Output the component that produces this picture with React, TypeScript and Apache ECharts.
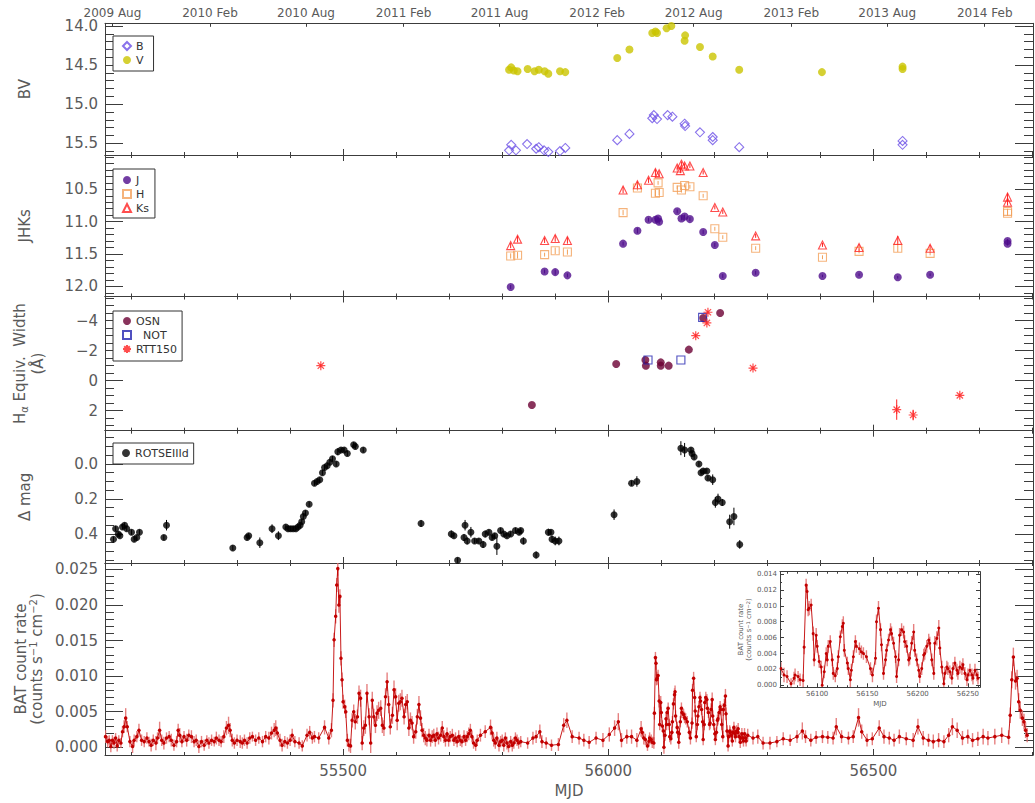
import React, { useEffect, useRef } from "react";
import * as echarts from "echarts";

// ---------------- shared MJD axis ----------------
const MJD_MIN = 55051;
const MJD_MAX = 56801;
const mjdMajorTicks = [55500, 56000, 56500];
const mjdMinorStep = 100;

// calendar ticks drawn along the top of the first panel
const calendarTickMjd = [55065, 55249, 55430, 55614, 55795, 55979, 56161, 56345, 56526, 56710];
const calendarTickLabels = [
  "2009 Aug", "2010 Feb", "2010 Aug", "2011 Feb", "2011 Aug",
  "2012 Feb", "2012 Aug", "2013 Feb", "2013 Aug", "2014 Feb",
];

// ---------------- optical photometry [MJD, mag] ----------------
const bandB: number[][] = [
  [55813, 15.59], [55817, 15.52], [55826, 15.59], [55847, 15.51], [55864, 15.57], [55869, 15.55],
  [55879, 15.59], [55887, 15.61], [55909, 15.60], [55919, 15.56], [56017, 15.46], [56040, 15.38],
  [56083, 15.18], [56086, 15.14], [56092, 15.19], [56112, 15.14], [56121, 15.16], [56144, 15.25],
  [56145, 15.28], [56173, 15.36], [56197, 15.42], [56197, 15.46], [56247, 15.55], [56555, 15.47],
  [56555, 15.52],
];
const bandV: number[][] = [
  [55813, 14.56], [55817, 14.53], [55822, 14.57], [55829, 14.58], [55848, 14.55], [55861, 14.58],
  [55869, 14.56], [55880, 14.58], [55887, 14.61], [55909, 14.58], [55919, 14.59], [56017, 14.41],
  [56040, 14.30], [56083, 14.09], [56089, 14.07], [56092, 14.09], [56110, 14.03], [56119, 14.00],
  [56145, 14.12], [56144, 14.19], [56173, 14.27], [56197, 14.39], [56247, 14.56], [56403, 14.59],
  [56555, 14.52], [56555, 14.55],
];

// ---------------- near-IR photometry [MJD, mag, error] ----------------
const bandJ: number[][] = [
  [55816, 12.01, 0.03], [55880, 11.77, 0.03], [55900, 11.78, 0.04], [55923, 11.83, 0.03],
  [56028, 11.34, 0.03], [56055, 11.14, 0.04], [56076, 10.97, 0.03], [56089, 10.97, 0.03],
  [56094, 10.95, 0.03], [56096, 11.0, 0.04], [56130, 10.84, 0.03], [56138, 10.95, 0.03],
  [56144, 10.92, 0.03], [56154, 10.96, 0.03], [56179, 11.16, 0.03], [56201, 11.36, 0.03],
  [56216, 11.84, 0.03], [56278, 11.79, 0.03], [56404, 11.84, 0.02], [56473, 11.82, 0.02],
  [56546, 11.86, 0.02], [56607, 11.82, 0.02], [56753, 11.3, 0.03], [56753, 11.34, 0.03],
];
const bandH: number[][] = [
  [55816, 11.53, 0.04], [55829, 11.52, 0.05], [55880, 11.51, 0.03], [55900, 11.45, 0.05],
  [55923, 11.47, 0.04], [56028, 10.86, 0.04], [56055, 10.48, 0.04], [56089, 10.56, 0.05],
  [56094, 10.4, 0.03], [56096, 10.55, 0.04], [56130, 10.47, 0.03], [56138, 10.51, 0.04],
  [56144, 10.44, 0.03], [56154, 10.46, 0.03], [56179, 10.6, 0.03], [56201, 11.11, 0.03],
  [56216, 11.24, 0.03], [56278, 11.41, 0.03], [56404, 11.55, 0.03], [56473, 11.46, 0.03],
  [56546, 11.41, 0.06], [56607, 11.49, 0.03], [56753, 10.87, 0.04], [56753, 10.84, 0.04],
];
const bandKs: number[][] = [
  [55816, 11.37, 0.04], [55829, 11.27, 0.05], [55880, 11.29, 0.04], [55900, 11.26, 0.05],
  [55923, 11.29, 0.05], [56028, 10.51, 0.05], [56055, 10.43, 0.05], [56076, 10.36, 0.04],
  [56089, 10.24, 0.05], [56096, 10.26, 0.04], [56130, 10.17, 0.04], [56136, 10.21, 0.04],
  [56138, 10.11, 0.04], [56144, 10.14, 0.04], [56154, 10.14, 0.03], [56179, 10.24, 0.03],
  [56201, 10.78, 0.03], [56216, 10.85, 0.03], [56278, 11.22, 0.03], [56404, 11.36, 0.03],
  [56473, 11.4, 0.05], [56546, 11.29, 0.07], [56607, 11.41, 0.05], [56753, 10.62, 0.06],
  [56753, 10.7, 0.05],
];

// ---------------- H-alpha equivalent width [MJD, EW, error] ----------------
const haOSN: number[][] = [
  [55856, 1.62, 0.06], [56015, -1.11, 0.06], [56070, -1.38, 0.06], [56071, -1.0, 0.06],
  [56099, -1.22, 0.06], [56099, -1.0, 0.06], [56114, -1.0, 0.06], [56152, -2.07, 0.06],
  [56179, -4.18, 0.06], [56211, -4.51, 0.06],
];
const haNOT: number[][] = [
  [56075, -1.38, 0.05], [56137, -1.38, 0.05], [56178, -4.22, 0.05],
];
const haRTT150: number[][] = [
  [55458, -1.0, 0.1], [56165, -3.0, 0.1], [56186, -3.85, 0.1], [56188, -4.56, 0.1],
  [56273, -0.84, 0.1], [56544, 1.93, 0.68], [56575, 2.29, 0.35], [56663, 0.98, 0.1],
];

// ---------------- ROTSE-IIId differential magnitude [MJD, dmag, error] ----------------
const rotse: number[][] = [
  [55067, 0.43, 0.015], [55071, 0.37, 0.015], [55076, 0.4, 0.015], [55079, 0.41, 0.015],
  [55084, 0.36, 0.015], [55088, 0.35, 0.015], [55092, 0.37, 0.015], [55101, 0.39, 0.015],
  [55106, 0.43, 0.015], [55111, 0.42, 0.015], [55116, 0.39, 0.015], [55162, 0.42, 0.015],
  [55167, 0.35, 0.03], [55292, 0.48, 0.015], [55319, 0.42, 0.015], [55322, 0.41, 0.015],
  [55343, 0.45, 0.03], [55366, 0.37, 0.025], [55378, 0.41, 0.025], [55392, 0.36, 0.015],
  [55396, 0.37, 0.015], [55401, 0.37, 0.015], [55406, 0.37, 0.015], [55411, 0.37, 0.015],
  [55415, 0.36, 0.015], [55419, 0.35, 0.015], [55422, 0.33, 0.015], [55425, 0.3, 0.015],
  [55429, 0.28, 0.015], [55436, 0.23, 0.015], [55446, 0.11, 0.015], [55451, 0.1, 0.015],
  [55456, 0.09, 0.015], [55461, 0.05, 0.015], [55465, 0.02, 0.015], [55470, 0.01, 0.015],
  [55475, -0.01, 0.015], [55480, -0.03, 0.015], [55487, 0.0, 0.015], [55490, -0.07, 0.02],
  [55496, -0.08, 0.015], [55502, -0.08, 0.015], [55508, -0.06, 0.015], [55520, -0.11, 0.015],
  [55523, -0.1, 0.015], [55538, -0.08, 0.015], [55647, 0.34, 0.02], [55704, 0.4, 0.02],
  [55709, 0.41, 0.015], [55716, 0.55, 0.015], [55728, 0.42, 0.02], [55730, 0.35, 0.03],
  [55734, 0.44, 0.02], [55741, 0.39, 0.03], [55748, 0.44, 0.015], [55756, 0.44, 0.015],
  [55764, 0.46, 0.02], [55768, 0.4, 0.02], [55775, 0.39, 0.015], [55781, 0.42, 0.015],
  [55786, 0.41, 0.015], [55790, 0.47, 0.05], [55797, 0.38, 0.015], [55803, 0.4, 0.015],
  [55809, 0.41, 0.015], [55816, 0.4, 0.015], [55825, 0.38, 0.015], [55832, 0.39, 0.015],
  [55835, 0.38, 0.015], [55840, 0.44, 0.02], [55864, 0.52, 0.02], [55887, 0.39, 0.02],
  [55892, 0.39, 0.015], [55894, 0.43, 0.02], [55900, 0.44, 0.025], [55907, 0.44, 0.025],
  [56011, 0.29, 0.03], [56044, 0.11, 0.015], [56054, 0.1, 0.03], [56137, -0.09, 0.04],
  [56144, -0.08, 0.04], [56156, -0.08, 0.015], [56158, -0.06, 0.015], [56162, -0.04, 0.015],
  [56171, 0.0, 0.015], [56175, 0.05, 0.015], [56179, 0.04, 0.015], [56186, 0.04, 0.015],
  [56188, 0.08, 0.015], [56197, 0.09, 0.03], [56202, 0.22, 0.03], [56207, 0.2, 0.03],
  [56215, 0.22, 0.02], [56229, 0.33, 0.04], [56237, 0.3, 0.05], [56248, 0.46, 0.025],
];

// ---------------- Swift/BAT count rate [MJD, rate, error] ----------------
const batEarly: number[][] = [
  [55052, 0.0015, 0.0009], [55056, 0.0008, 0.0008], [55059, 0.001, 0.0007], [55062, 0.0001, 0.0008],
  [55065, 0.001, 0.0007], [55068, 0.0006, 0.0008], [55071, 0.0013, 0.0007], [55074, 0.0002, 0.0008],
  [55077, 0.001, 0.0007], [55081, 0.0006, 0.0007], [55084, 0.0022, 0.0008], [55087, 0.0029, 0.0009],
  [55090, 0.0041, 0.0014], [55093, 0.0029, 0.0008], [55098, 0.0008, 0.0008], [55103, 0.0001, 0.0009],
  [55106, 0.001, 0.0008], [55111, 0.0015, 0.0008], [55115, 0.0024, 0.0009], [55120, 0.001, 0.0008],
  [55125, 0.0008, 0.0008], [55130, 0.0013, 0.0008], [55134, 0.0008, 0.0007], [55138, 0.0003, 0.0009],
  [55142, 0.001, 0.0008], [55147, 0.0006, 0.001], [55150, 0.0013, 0.0008], [55154, 0.0024, 0.0012],
  [55158, 0.001, 0.0008], [55162, 0.0006, 0.0009], [55167, 0.0013, 0.0008], [55172, 0.0015, 0.0008],
  [55176, 0.001, 0.0009], [55181, 0.0003, 0.0008], [55186, 0.0008, 0.0008], [55189, 0.0024, 0.0009],
  [55192, 0.0017, 0.001], [55196, 0.0008, 0.0008], [55200, 0.0015, 0.0008], [55205, 0.001, 0.0009],
  [55209, 0.0017, 0.0008], [55214, 0.0015, 0.0009], [55219, 0.0008, 0.0008], [55223, 0.001, 0.0008],
  [55228, 0.0001, 0.0009], [55233, 0.0008, 0.0008], [55238, 0.0003, 0.0008], [55243, 0.001, 0.0007],
  [55247, 0.0006, 0.0008], [55252, 0.001, 0.0008], [55257, 0.0008, 0.0007], [55261, 0.0013, 0.0009],
  [55266, 0.001, 0.0008], [55270, 0.0008, 0.0008], [55275, 0.0015, 0.0009], [55280, 0.0027, 0.001],
  [55284, 0.0031, 0.0012], [55287, 0.0024, 0.001], [55291, 0.001, 0.0009], [55295, 0.0006, 0.0008],
  [55300, 0.001, 0.0008], [55306, 0.0008, 0.0009], [55310, 0.0006, 0.0008], [55314, 0.001, 0.0008],
  [55319, 0.0006, 0.0008], [55324, 0.0013, 0.0008], [55329, 0.0015, 0.0007], [55335, 0.001, 0.0008],
  [55341, 0.0013, 0.0008], [55348, 0.0008, 0.0008], [55354, 0.0015, 0.0008], [55360, 0.0013, 0.0009],
  [55365, 0.002, 0.0009], [55370, 0.0024, 0.001], [55373, 0.0027, 0.0011], [55376, 0.002, 0.0009],
  [55381, 0.001, 0.0009], [55385, 0.0003, 0.0009], [55390, 0.0008, 0.0008], [55395, 0.0006, 0.0008],
  [55400, 0.001, 0.0008], [55404, 0.0017, 0.0009], [55409, 0.0008, 0.0008], [55417, 0.0006, 0.0008],
  [55423, 0.0002, 0.0008], [55432, 0.0017, 0.0009], [55437, 0.0021, 0.0009], [55442, 0.0013, 0.0008],
  [55446, 0.0015, 0.0008], [55454, 0.0013, 0.0008], [55465, 0.0028, 0.001], [55473, 0.0013, 0.0009],
  [55478, 0.0024, 0.001], [55481, 0.0066, 0.001], [55483, 0.0151, 0.001], [55486, 0.0184, 0.001],
  [55488, 0.0228, 0.001], [55490, 0.0251, 0.001], [55492, 0.02, 0.0011], [55494, 0.0212, 0.001],
  [55496, 0.0125, 0.001], [55498, 0.0095, 0.001], [55500, 0.0064, 0.001], [55503, 0.0057, 0.001],
  [55505, 0.005, 0.0009], [55508, 0.001, 0.0009], [55511, 0.0003, 0.0009], [55514, 0.0002, 0.001],
  [55517, 0.0038, 0.001], [55520, 0.005, 0.001], [55523, 0.0036, 0.0011], [55527, 0.0043, 0.001],
  [55530, 0.0076, 0.0011], [55533, 0.0069, 0.0012], [55536, 0.0006, 0.001], [55539, 0.0027, 0.0011],
  [55542, 0.0031, 0.0012], [55545, 0.0076, 0.0013], [55549, 0.0043, 0.0012], [55552, 0.0006, 0.0014],
  [55555, 0.0066, 0.0012], [55558, 0.0043, 0.0011], [55561, 0.0031, 0.0011], [55564, 0.0048, 0.0011],
  [55567, 0.0052, 0.0012], [55571, 0.0055, 0.0011], [55574, 0.0031, 0.0011], [55577, 0.0027, 0.0011],
  [55580, 0.0071, 0.0012], [55583, 0.0092, 0.0013], [55586, 0.006, 0.0012], [55589, 0.0029, 0.0011],
  [55593, 0.0045, 0.0012], [55596, 0.0081, 0.0013], [55599, 0.0071, 0.0012], [55602, 0.0038, 0.0014],
  [55605, 0.0062, 0.0012], [55608, 0.0064, 0.0012], [55611, 0.0069, 0.0012], [55615, 0.0043, 0.0011],
  [55618, 0.006, 0.0012], [55621, 0.0064, 0.0011], [55624, 0.0027, 0.0011], [55627, 0.0038, 0.0011],
  [55630, 0.0034, 0.001], [55633, 0.0015, 0.001], [55637, 0.0022, 0.001], [55640, 0.0043, 0.0011],
  [55643, 0.006, 0.0012], [55646, 0.0041, 0.0011], [55649, 0.0024, 0.001], [55652, 0.0017, 0.001],
  [55655, 0.0013, 0.001], [55658, 0.001, 0.0009], [55662, 0.0017, 0.0009], [55665, 0.001, 0.0009],
  [55668, 0.0015, 0.0009], [55671, 0.0017, 0.0009], [55674, 0.001, 0.0009], [55677, 0.0019, 0.0009],
  [55680, 0.0013, 0.0009], [55684, 0.0017, 0.0009], [55687, 0.0027, 0.001], [55690, 0.0015, 0.0009],
  [55693, 0.001, 0.0009], [55696, 0.0019, 0.0009], [55699, 0.001, 0.0009], [55702, 0.0015, 0.0008],
  [55706, 0.0017, 0.0009], [55709, 0.001, 0.0008], [55712, 0.0013, 0.0008], [55715, 0.0008, 0.0008],
  [55718, 0.0015, 0.0009], [55721, 0.001, 0.0008], [55724, 0.0008, 0.0008], [55728, 0.0015, 0.0009],
  [55731, 0.001, 0.0008], [55734, 0.0015, 0.0008], [55737, 0.0019, 0.0009], [55740, 0.0024, 0.0009],
  [55743, 0.0015, 0.0008], [55746, 0.0006, 0.0008], [55750, 0.0003, 0.0008], [55753, 0.001, 0.0008],
  [55759, 0.0017, 0.0009], [55768, 0.0022, 0.0009], [55778, 0.0028, 0.0011], [55781, 0.002, 0.0009],
  [55784, 0.001, 0.0009], [55787, 0.0006, 0.0008], [55790, 0.0013, 0.0009], [55794, 0.0003, 0.0009],
  [55797, 0.0008, 0.0008], [55800, 0.001, 0.0008], [55803, 0.0003, 0.0009], [55806, 0.0013, 0.0008],
  [55809, 0.0006, 0.0009], [55812, 0.0001, 0.0008], [55816, 0.0008, 0.0008], [55819, 0.0003, 0.0009],
  [55822, 0.0006, 0.0008], [55825, 0.0013, 0.0008], [55828, 0.001, 0.0008], [55831, 0.0006, 0.0008],
  [55835, 0.0008, 0.0008], [55848, 0.0006, 0.0008], [55858, 0.0013, 0.0009], [55864, 0.0015, 0.0009],
  [55871, 0.0022, 0.001], [55875, 0.0008, 0.0009], [55883, 0.0006, 0.0008], [55893, 0.0003, 0.0008],
  [55906, 0.0004, 0.0009], [55916, 0.0031, 0.001], [55922, 0.0038, 0.0011], [55932, 0.0015, 0.0009],
  [55945, 0.0013, 0.0009], [55954, 0.001, 0.0009], [55964, 0.0007, 0.0009], [55977, 0.0013, 0.0009],
  [55990, 0.001, 0.001], [56002, 0.0018, 0.001], [56012, 0.0027, 0.0011], [56019, 0.0036, 0.0012],
  [56025, 0.001, 0.001], [56035, 0.0015, 0.001], [56044, 0.0015, 0.001], [56054, 0.001, 0.001],
  [56062, 0.0026, 0.0011],
];
// 2012 outburst, also shown enlarged in the inset
const batFlare2012: number[][] = [
  [56064, 0.0021, 0.0008], [56067, 0.0013, 0.0009], [56070, 0.0011, 0.0008], [56074, 0.0002, 0.0007],
  [56077, 0.0009, 0.0008], [56078, 0.0013, 0.0008], [56081, 0.0011, 0.0007], [56083, 0.0007, 0.0008],
  [56086, 0.0006, 0.0008], [56087, 0.0048, 0.0009], [56089, 0.0126, 0.0008], [56090, 0.0118, 0.0009],
  [56091, 0.0095, 0.0008], [56092, 0.0097, 0.0009], [56094, 0.0101, 0.0008], [56096, 0.0065, 0.0009],
  [56097, 0.0032, 0.0008], [56099, 0.0063, 0.0009], [56100, 0.0049, 0.0008], [56102, 0.003, 0.0008],
  [56104, 0.0023, 0.0008], [56105, 0.0, 0.0009], [56107, 0.0017, 0.0008], [56109, 0.004, 0.0008],
  [56110, 0.0032, 0.0008], [56111, 0.0049, 0.0008], [56113, 0.0055, 0.0008], [56115, 0.0032, 0.0008],
  [56116, 0.0015, 0.0008], [56118, 0.0012, 0.0008], [56120, 0.0021, 0.0008], [56121, 0.0036, 0.0008],
  [56123, 0.0061, 0.0008], [56125, 0.0074, 0.0009], [56126, 0.0078, 0.0009], [56127, 0.0044, 0.0008],
  [56130, 0.0028, 0.0008], [56131, 0.0021, 0.0008], [56133, 0.0007, 0.0009], [56134, 0.0019, 0.0008],
  [56136, 0.0036, 0.0008], [56138, 0.0055, 0.0008], [56139, 0.0049, 0.0008], [56142, 0.0046, 0.0008],
  [56144, 0.0042, 0.0008], [56146, 0.004, 0.0008], [56149, 0.0036, 0.0008], [56153, 0.0021, 0.0008],
  [56155, 0.0013, 0.0009], [56158, 0.0034, 0.0008], [56159, 0.008, 0.0009], [56161, 0.0097, 0.0009],
  [56163, 0.007, 0.0008], [56164, 0.0051, 0.0008], [56166, 0.0015, 0.0008], [56168, 0.0032, 0.0008],
  [56169, 0.0044, 0.0008], [56171, 0.0057, 0.0008], [56173, 0.007, 0.0008], [56174, 0.0065, 0.0009],
  [56176, 0.0053, 0.0008], [56178, 0.0036, 0.0008], [56179, 0.0011, 0.0008], [56181, 0.0032, 0.0008],
  [56182, 0.0063, 0.0009], [56184, 0.007, 0.0008], [56186, 0.0067, 0.0008], [56187, 0.0055, 0.0008],
  [56189, 0.0049, 0.0008], [56191, 0.0032, 0.0008], [56192, 0.0034, 0.0008], [56194, 0.0053, 0.0009],
  [56196, 0.0067, 0.001], [56197, 0.0044, 0.0008], [56199, 0.0032, 0.0008], [56201, 0.0019, 0.0008],
  [56202, 0.0011, 0.0008], [56204, 0.0021, 0.0008], [56206, 0.0038, 0.0008], [56207, 0.004, 0.0008],
  [56209, 0.0049, 0.0008], [56211, 0.0057, 0.0008], [56212, 0.0053, 0.0008], [56214, 0.0032, 0.0008],
  [56216, 0.0015, 0.0008], [56217, 0.0053, 0.0009], [56219, 0.0059, 0.0009], [56221, 0.0072, 0.001],
  [56222, 0.0047, 0.0009], [56224, 0.0023, 0.0008], [56226, 0.0002, 0.0008], [56227, 0.0015, 0.0008],
  [56229, 0.0023, 0.0008], [56230, 0.0021, 0.0008], [56232, 0.0017, 0.0008], [56234, 0.0009, 0.0008],
  [56235, 0.0021, 0.0008], [56237, 0.0028, 0.0008], [56239, 0.0019, 0.0008], [56240, 0.0015, 0.0008],
  [56242, 0.0023, 0.0008], [56244, 0.0021, 0.0008], [56245, 0.0026, 0.0008], [56247, 0.0015, 0.0008],
  [56249, 0.0007, 0.0008], [56250, 0.0013, 0.0008], [56252, 0.0019, 0.0008], [56254, 0.0013, 0.0008],
  [56255, 0.0009, 0.0008], [56257, 0.0019, 0.0008], [56259, 0.0013, 0.0008], [56260, 0.0009, 0.0008],
];
const batLate: number[][] = [
  [56263, 0.0017, 0.0009], [56273, 0.0013, 0.0009], [56282, 0.0015, 0.001], [56292, 0.0006, 0.0009],
  [56305, 0.0006, 0.0009], [56318, 0.0008, 0.0008], [56330, 0.0012, 0.0009], [56343, 0.001, 0.0008],
  [56356, 0.0015, 0.0009], [56366, 0.0023, 0.0012], [56372, 0.0015, 0.0009], [56382, 0.001, 0.0009],
  [56392, 0.0014, 0.0009], [56404, 0.0015, 0.0009], [56414, 0.0014, 0.0009], [56424, 0.0013, 0.0009],
  [56430, 0.0029, 0.0012], [56440, 0.0015, 0.0009], [56453, 0.0013, 0.0009], [56462, 0.0015, 0.0009],
  [56472, 0.0042, 0.0013], [56478, 0.0022, 0.001], [56488, 0.001, 0.0009], [56498, 0.0012, 0.0009],
  [56511, 0.0027, 0.0011], [56520, 0.0015, 0.001], [56530, 0.0013, 0.0009], [56539, 0.001, 0.0009],
  [56549, 0.0015, 0.001], [56562, 0.0012, 0.0009], [56575, 0.001, 0.001], [56584, 0.0029, 0.0011],
  [56594, 0.0013, 0.001], [56604, 0.001, 0.0009], [56613, 0.0008, 0.001], [56623, 0.001, 0.001],
  [56633, 0.0008, 0.0009], [56642, 0.0017, 0.001], [56649, 0.0029, 0.0012], [56658, 0.0024, 0.0011],
  [56668, 0.0013, 0.001], [56678, 0.0015, 0.001], [56687, 0.001, 0.001], [56697, 0.0012, 0.001],
  [56707, 0.0015, 0.0011], [56716, 0.0013, 0.001], [56729, 0.0015, 0.0011], [56742, 0.0017, 0.0011],
  [56755, 0.0014, 0.001], [56758, 0.0045, 0.0011], [56761, 0.0095, 0.0012], [56764, 0.0127, 0.0013],
  [56768, 0.0093, 0.0012], [56771, 0.0097, 0.0012], [56774, 0.0064, 0.0012], [56777, 0.0052, 0.0012],
  [56781, 0.0041, 0.0011], [56784, 0.0036, 0.0011], [56787, 0.0024, 0.0011], [56790, 0.0017, 0.001],
];

// ---------------- y-axis ticks per panel ----------------
const bvMajor = [14.0, 14.5, 15.0, 15.5];
const jhkMajor = [10.5, 11.0, 11.5, 12.0];
const haMajor = [-4, -2, 0, 2];
const dmagMajor = [0.0, 0.2, 0.4];
const batMajor = [0, 0.005, 0.01, 0.015, 0.02, 0.025];
const insetRateMajor = [0, 0.002, 0.004, 0.006, 0.008, 0.01, 0.012, 0.014];
const insetMjdMajor = [56100, 56150, 56200, 56250];

// ---------------- layout ----------------
const PLOT_LEFT = 105;
const PLOT_WIDTH = 928;
const panelTop = [23.3, 155, 296.5, 430.7, 563];
const panelHeight = [131.7, 141.5, 134.2, 132.3, 192];
const INSET = { left: 780, top: 571.7, width: 200, height: 115.6 };

const FONT = "DejaVu Sans";
const AXIS_COLOR = "#3c3c3c";
const TEXT_COLOR = "#5a5a5a";
const BAT_RED = "#c20000";
const BAT_ERR = "#e26a6a";

function steps(from: number, to: number, step: number): number[] {
  const out: number[] = [];
  const n = Math.round((to - from) / step);
  for (let i = 0; i <= n; i++) out.push(Number((from + i * step).toFixed(6)));
  return out;
}

const mjdMinorTicks = steps(55100, 56800, mjdMinorStep);

function buildOption(): any {
  const line = { color: AXIS_COLOR, width: 1 };
  const grid: any[] = panelTop.map((t, i) => ({
    left: PLOT_LEFT, top: t, width: PLOT_WIDTH, height: panelHeight[i], containLabel: false,
  }));
  grid.push({ left: INSET.left, top: INSET.top, width: INSET.width, height: INSET.height, containLabel: false });

  const xAxis: any[] = [];
  const yAxis: any[] = [];
  const series: any[] = [];

  function addX(grid: number, position: string, ticks: number[], length: number, showLine: boolean, extra: any = {}) {
    xAxis.push({
      type: "value", gridIndex: grid, position, min: MJD_MIN, max: MJD_MAX,
      axisLine: { show: showLine, onZero: false, lineStyle: line },
      axisTick: { show: true, inside: true, length, customValues: ticks, lineStyle: line },
      axisLabel: { show: false },
      splitLine: { show: false },
      ...extra,
    });
    return xAxis.length - 1;
  }
  function addY(grid: number, position: string, range: number[], inverse: boolean, ticks: number[], length: number, showLine: boolean, extra: any = {}) {
    yAxis.push({
      type: "value", gridIndex: grid, position, min: range[0], max: range[1], inverse,
      axisLine: { show: showLine, onZero: false, lineStyle: line },
      axisTick: { show: true, inside: true, length, customValues: ticks, lineStyle: line },
      axisLabel: { show: false },
      splitLine: { show: false },
      ...extra,
    });
    return yAxis.length - 1;
  }

  const tickLabel = { show: true, fontFamily: FONT, fontSize: 15, color: TEXT_COLOR, margin: 7 };
  const nameStyle = { fontFamily: FONT, fontSize: 15, color: TEXT_COLOR };

  function panel(g: number, range: number[], inverse: boolean, major: number[], minor: number[],
    fmt: (v: number) => string, nameCfg: any, opts: { calendarTop?: boolean; mjdLabels?: boolean } = {}) {
    const xi = addX(g, "bottom", mjdMajorTicks, 6, true, opts.mjdLabels ? {
      axisLabel: { ...tickLabel, margin: 8, customValues: mjdMajorTicks, formatter: (v: number) => String(v) },
      name: "MJD", nameLocation: "middle", nameGap: 28, nameTextStyle: nameStyle,
    } : {});
    addX(g, "bottom", mjdMinorTicks, 3, false);
    if (opts.calendarTop) {
      addX(g, "top", calendarTickMjd, 3.5, true, {
        axisLabel: {
          show: true, fontFamily: FONT, fontSize: 12, color: TEXT_COLOR, margin: 4,
          customValues: calendarTickMjd,
          formatter: (v: number) => calendarTickLabels[calendarTickMjd.indexOf(v)] ?? "",
        },
      });
    } else {
      addX(g, "top", mjdMajorTicks, 6, true);
      addX(g, "top", mjdMinorTicks, 3, false);
    }
    const yi = addY(g, "left", range, inverse, major, 18, true, {
      axisLabel: { ...tickLabel, customValues: major, formatter: fmt },
      nameLocation: "middle", ...nameCfg,
    });
    addY(g, "left", range, inverse, minor, 9, false);
    addY(g, "right", range, inverse, major, 18, true);
    addY(g, "right", range, inverse, minor, 9, false);
    return { xi, yi };
  }

  const signed = (v: number) => (v < 0 ? "\u2212" + Math.abs(v) : String(v));

  const p1 = panel(0, [13.966, 15.65], true, bvMajor, steps(14.0, 15.6, 0.1), (v) => v.toFixed(1),
    { name: "BV", nameGap: 73, nameTextStyle: nameStyle }, { calendarTop: true });
  const p2 = panel(1, [9.969, 12.157], true, jhkMajor, steps(10.0, 12.1, 0.1), (v) => v.toFixed(1),
    { name: "JHKs", nameGap: 73, nameTextStyle: nameStyle });
  const p3 = panel(2, [-5.61, 3.335], true, haMajor, steps(-5.5, 3.0, 0.5), signed, {
    name: "{t|H}{s|\u03b1}{t| Equiv.  Width}\n{t|(\u00c5)}", nameGap: 58,
    nameTextStyle: {
      ...nameStyle,
      rich: {
        t: { fontFamily: FONT, fontSize: 15, color: TEXT_COLOR, lineHeight: 18 },
        s: { fontFamily: FONT, fontSize: 10, color: TEXT_COLOR, lineHeight: 10, verticalAlign: "bottom" },
      },
    },
  });
  const p4 = panel(3, [-0.19, 0.566], true, dmagMajor, steps(-0.15, 0.55, 0.05), (v) => v.toFixed(1),
    { name: "\u0394 mag", nameGap: 73, nameTextStyle: nameStyle });
  const p5 = panel(4, [-0.00108, 0.02589], false, batMajor, steps(0, 0.025, 0.001), (v) => v.toFixed(3), {
    name: "{t|BAT count rate}\n{t|(counts s}{u|\u22121}{t| cm}{u|\u22122}{t|)}", nameGap: 59,
    nameTextStyle: {
      ...nameStyle,
      rich: {
        t: { fontFamily: FONT, fontSize: 15, color: TEXT_COLOR, lineHeight: 16 },
        u: { fontFamily: FONT, fontSize: 10, color: TEXT_COLOR, lineHeight: 10, verticalAlign: "top" },
      },
    },
  }, { mjdLabels: true });

  // ---- inset axes (enlarged 2012 outburst) ----
  const insetMjd = [56063, 56262];
  const insetRate = [-0.00025, 0.01429];
  const insetLabel = { show: true, fontFamily: FONT, fontSize: 7, color: TEXT_COLOR, margin: 3 };
  const insetXAxis = (position: string, ticks: number[], length: number, showLine: boolean, extra: any = {}) => {
    xAxis.push({
      type: "value", gridIndex: 5, position, min: insetMjd[0], max: insetMjd[1], z: 8,
      axisLine: { show: showLine, onZero: false, lineStyle: line },
      axisTick: { show: true, inside: true, length, customValues: ticks, lineStyle: line },
      axisLabel: { show: false }, splitLine: { show: false }, ...extra,
    });
    return xAxis.length - 1;
  };
  const insetYAxis = (position: string, ticks: number[], length: number, showLine: boolean, extra: any = {}) => {
    yAxis.push({
      type: "value", gridIndex: 5, position, min: insetRate[0], max: insetRate[1], z: 8,
      axisLine: { show: showLine, onZero: false, lineStyle: line },
      axisTick: { show: true, inside: true, length, customValues: ticks, lineStyle: line },
      axisLabel: { show: false }, splitLine: { show: false }, ...extra,
    });
    return yAxis.length - 1;
  };
  const insetMinorMjd = steps(56070, 56260, 10);
  const insetMinorRate = steps(0, 0.014, 0.001);
  const ixi = insetXAxis("bottom", insetMjdMajor, 4, true, {
    axisLabel: { ...insetLabel, customValues: insetMjdMajor, formatter: (v: number) => String(v) },
    name: "MJD", nameLocation: "middle", nameGap: 13,
    nameTextStyle: { fontFamily: FONT, fontSize: 7, color: TEXT_COLOR },
  });
  insetXAxis("bottom", insetMinorMjd, 2, false);
  insetXAxis("top", insetMjdMajor, 4, true);
  insetXAxis("top", insetMinorMjd, 2, false);
  const iyi = insetYAxis("left", insetRateMajor, 4, true, {
    axisLabel: { ...insetLabel, customValues: insetRateMajor, formatter: (v: number) => v.toFixed(3) },
    name: "{t|BAT count rate}\n{t|(counts s}{u|\u22121}{t| cm}{u|\u22122}{t|)}",
    nameLocation: "middle", nameGap: 27,
    nameTextStyle: {
      fontFamily: FONT, fontSize: 7, color: TEXT_COLOR,
      rich: {
        t: { fontFamily: FONT, fontSize: 7, color: TEXT_COLOR, lineHeight: 8 },
        u: { fontFamily: FONT, fontSize: 5, color: TEXT_COLOR, lineHeight: 5, verticalAlign: "top" },
      },
    },
  });
  insetYAxis("left", insetMinorRate, 2, false);
  insetYAxis("right", insetRateMajor, 4, true);
  insetYAxis("right", insetMinorRate, 2, false);

  // ---- series helpers ----
  const errorBars = (data: number[][], xi: number, yi: number, color: string, width: number, z: number, opacity = 1) => ({
    type: "custom", xAxisIndex: xi, yAxisIndex: yi, z, silent: true, clip: true,
    data: data.map((d) => [d[0], d[1] - d[2], d[1] + d[2]]),
    encode: { x: 0, y: [1, 2] },
    renderItem: (_p: any, api: any) => {
      const a = api.coord([api.value(0), api.value(1)]);
      const b = api.coord([api.value(0), api.value(2)]);
      return {
        type: "line",
        shape: { x1: a[0], y1: a[1], x2: b[0], y2: b[1] },
        style: { stroke: color, lineWidth: width, opacity },
      };
    },
  });
  const scatter = (name: string, data: number[][], ax: { xi: number; yi: number }, symbol: string, size: number, itemStyle: any, z = 4) => ({
    type: "scatter", name, xAxisIndex: ax.xi, yAxisIndex: ax.yi, z, clip: true,
    data: data.map((d) => [d[0], d[1]]),
    symbol, symbolSize: size, symbolKeepAspect: true, itemStyle,
  });
  const hollow = (c: string, w = 1.1) => ({ color: "rgba(255,255,255,0)", borderColor: c, borderWidth: w });
  const ASTERISK = "path://M5,0L5,10M0,5L10,5M1.5,1.5L8.5,8.5M1.5,8.5L8.5,1.5";

  // panel 1: B and V
  series.push(scatter("B", bandB, p1, "diamond", 9, hollow("#6b4fe6")));
  series.push(scatter("V", bandV, p1, "circle", 8, { color: "#cbc400" }));

  // panel 2: J, H, Ks
  series.push(errorBars(bandJ, p2.xi, p2.yi, "#4f0c8c", 1, 3));
  series.push(errorBars(bandH, p2.xi, p2.yi, "#f2a05a", 1, 3));
  series.push(errorBars(bandKs, p2.xi, p2.yi, "#ff2020", 1, 3));
  series.push(scatter("J", bandJ, p2, "circle", 8, { color: "#4f0c8c" }));
  series.push(scatter("H", bandH, p2, "rect", 8, hollow("#f2a05a")));
  series.push(scatter("Ks", bandKs, p2, "triangle", 8, hollow("#ff2020")));

  // panel 3: H-alpha equivalent width
  series.push(errorBars(haRTT150, p3.xi, p3.yi, "#ff2020", 1, 3));
  series.push(scatter("OSN", haOSN, p3, "circle", 8, { color: "#6b0033" }));
  series.push(scatter("NOT", haNOT, p3, "rect", 8, hollow("#2424b0")));
  series.push(scatter("RTT150", haRTT150, p3, ASTERISK, 9, hollow("#ff2020", 1.2)));

  // panel 4: ROTSE-IIId
  series.push(errorBars(rotse, p4.xi, p4.yi, "#000000", 1, 3));
  series.push(scatter("ROTSEIIId", rotse, p4, "circle", 7, { color: "#000000" }));

  // panel 5: BAT light curve
  const batAll = [...batEarly, ...batFlare2012, ...batLate];
  series.push(errorBars(batAll, p5.xi, p5.yi, BAT_ERR, 1.4, 2, 0.85));
  series.push({
    type: "line", name: "BAT", xAxisIndex: p5.xi, yAxisIndex: p5.yi, z: 3, clip: true,
    data: batAll.map((d) => [d[0], d[1]]),
    symbol: "circle", symbolSize: 3.5, showSymbol: true,
    itemStyle: { color: BAT_RED }, lineStyle: { color: BAT_RED, width: 0.9 },
  });

  // inset: 2012 outburst
  series.push(errorBars(batFlare2012, ixi, iyi, BAT_ERR, 1.4, 7, 0.85));
  series.push({
    type: "line", name: "BAT inset", xAxisIndex: ixi, yAxisIndex: iyi, z: 8, clip: true,
    data: batFlare2012.map((d) => [d[0], d[1]]),
    symbol: "circle", symbolSize: 3, showSymbol: true,
    itemStyle: { color: BAT_RED }, lineStyle: { color: BAT_RED, width: 0.9 },
  });

  const legendBox = (names: string[], top: number, padding: number[], extra: any = {}) => ({
    data: names, orient: "vertical", left: 113, top, padding,
    itemGap: 0, itemWidth: 8, itemHeight: 8, selectedMode: false,
    borderColor: "#333333", borderWidth: 1, borderRadius: 0, backgroundColor: "#ffffff",
    textStyle: { fontFamily: FONT, fontSize: 11, color: "#333333", lineHeight: 14 },
    ...extra,
  });

  return {
    animation: false,
    textStyle: { fontFamily: FONT },
    grid,
    xAxis,
    yAxis,
    series,
    legend: [
      legendBox(["B", "V"], 36, [3, 10, 4, 9]),
      legendBox(["J", "H", "Ks"], 169, [4, 6, 3, 9]),
      legendBox(["OSN", "NOT", "RTT150"], 311, [3, 5, 5, 9], {
        formatter: (n: string) => (n === "NOT" ? "  NOT" : n),
      }),
      legendBox(["ROTSEIIId"], 443, [3, 5, 4, 9]),
    ],
    graphic: {
      elements: [
        {
          type: "rect", z: 6, silent: true,
          shape: { x: INSET.left, y: INSET.top, width: INSET.width, height: INSET.height },
          style: { fill: "#ffffff" },
        },
      ],
    },
  };
}

export default function App() {
  const ref = useRef<HTMLDivElement>(null);
  useEffect(() => {
    if (!ref.current) return;
    const chart = echarts.init(ref.current, undefined, { renderer: "svg" });
    chart.setOption(buildOption());
    return () => chart.dispose();
  }, []);
  return (
    <div
      ref={ref}
      style={{ position: "absolute", left: 0, top: 0, width: 1035, height: 803, background: "#ffffff" }}
    />
  );
}
